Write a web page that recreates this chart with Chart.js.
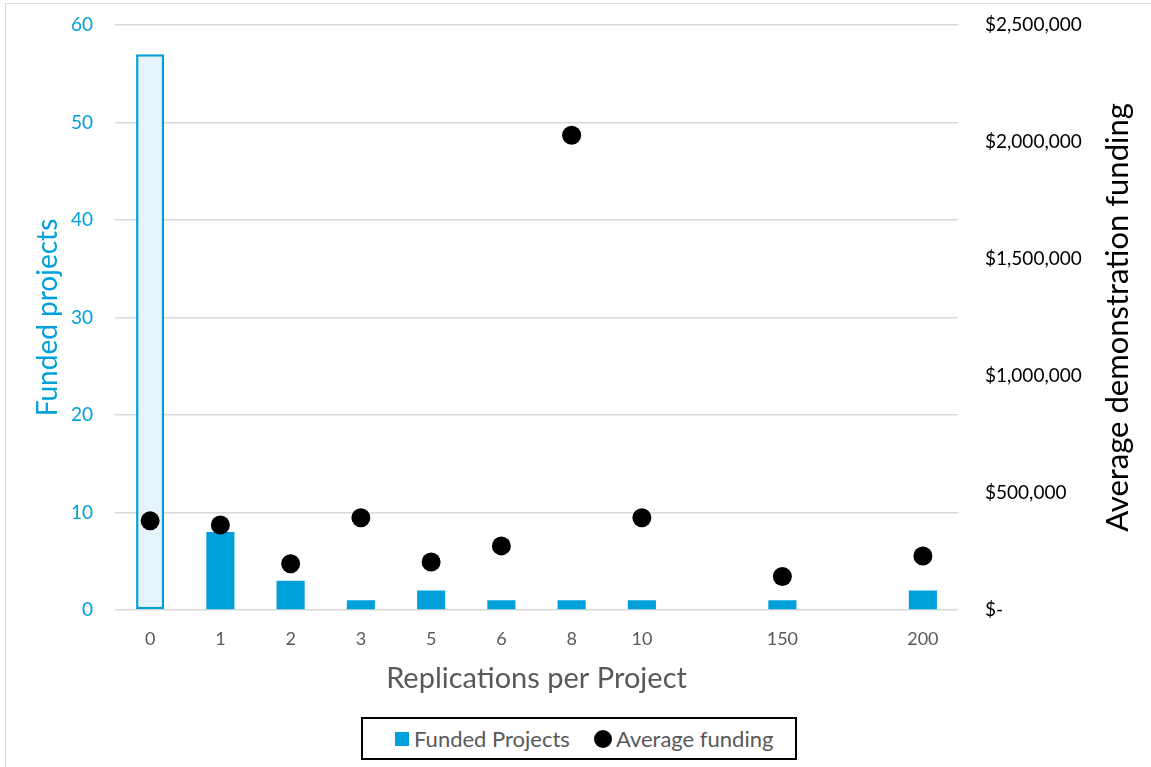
<!DOCTYPE html>
<html>
<head>
<meta charset="utf-8">
<script src="https://cdn.jsdelivr.net/npm/chart.js@4/dist/chart.umd.min.js"></script>
<style>
  html, body { margin: 0; padding: 0; background: #fff; }
  #wrap { position: relative; width: 1151px; height: 767px; overflow: hidden; }
  #frame { position: absolute; left: 5px; top: 3px; width: 1170px; height: 790px;
           border: 1.5px solid #d9d9d9; box-sizing: border-box; }
  #chart { position: absolute; left: 0; top: 0; }
  #legend { position: absolute; left: 361px; top: 717px; width: 436px; height: 43px;
            border: 2px solid #000; box-sizing: border-box; display: flex;
            align-items: center; justify-content: flex-start; padding-left: 20px;
            font-family: Lato, sans-serif; font-size: 22px; color: #595959; background: #fff; }
  .item { display: flex; align-items: center; margin: 0 12px; }
  .sw-bar { width: 14px; height: 14px; margin-right: 5px; }
  .sw-dot { width: 18px; height: 18px; border-radius: 50%; margin-right: 4px; }
</style>
</head>
<body>
<div id="wrap">
  <div id="frame"></div>
  <canvas id="chart" width="1151" height="767"></canvas>
  <div id="legend"></div>
</div>
<script>
// Replications per project (blank slots keep the spacing of the original axis)
const categories = ['0', '1', '2', '3', '5', '6', '8', '10', '', '150', '', '200'];
// Number of funded projects for each replication count
const fundedProjects = [57, 8, 3, 1, 2, 1, 1, 1, null, 1, null, 2];
// Average demonstration funding (USD)
const averageFunding = [381000, 363000, 198000, 394000, 205000, 274000, 2029000, 394000, null, 143000, null, 231000];
// Axis ticks
const leftTicks = [0, 10, 20, 30, 40, 50, 60];
const rightTicks = [0, 500000, 1000000, 1500000, 2000000, 2500000];

const BLUE = '#00A0DA';
const FONT = 'Lato, sans-serif';
const RIGHT_TITLE = 'Average demonstration funding';

function money(v) {
  return v === 0 ? '$-' : '$' + v.toLocaleString('en-US');
}

// Right-hand axis title, read bottom-to-top like the left one
const rightTitlePlugin = {
  id: 'rightTitle',
  afterDraw(chart) {
    const { ctx, chartArea } = chart;
    const s = chart.scales.y1;
    ctx.save();
    ctx.translate(s.right - 33, (chartArea.top + chartArea.bottom) / 2);
    ctx.rotate(-Math.PI / 2);
    ctx.textAlign = 'center';
    ctx.textBaseline = 'middle';
    ctx.fillStyle = '#000';
    ctx.font = '31px ' + FONT;
    ctx.fillText(RIGHT_TITLE, 0, 0);
    ctx.restore();
  }
};

// Vertical axes: fixed width, and no extra space reserved above/below the plot
function fitVertical(width) {
  return s => {
    s.width = width;
    s.paddingTop = 0;
    s.paddingBottom = 0;
  };
}

const chart = new Chart(document.getElementById('chart'), {
  type: 'bar',
  data: {
    labels: categories,
    datasets: [
      {
        type: 'line',
        label: 'Average funding',
        data: averageFunding,
        yAxisID: 'y1',
        showLine: false,
        pointRadius: 9.5,
        pointHoverRadius: 9.5,
        pointBackgroundColor: '#000',
        pointBorderWidth: 0,
        order: 0
      },
      {
        label: 'Funded Projects',
        data: fundedProjects,
        yAxisID: 'y',
        backgroundColor: ctx => ctx.dataIndex === 0 ? '#E5F3FB' : BLUE,
        borderColor: BLUE,
        borderWidth: ctx => ctx.dataIndex === 0 ? 2.5 : 0,
        borderSkipped: false,
        barPercentage: 0.4,
        categoryPercentage: 1.0,
        order: 1
      }
    ]
  },
  plugins: [rightTitlePlugin],
  options: {
    responsive: false,
    animation: false,
    events: [],
    layout: { padding: { top: 25, left: 0, right: 0, bottom: 66 } },
    plugins: { legend: { display: false }, tooltip: { enabled: false } },
    scales: {
      x: {
        grid: { display: false, drawTicks: false },
        border: { display: false },
        ticks: { color: '#595959', font: { family: FONT, size: 18 }, padding: 18, maxRotation: 0, autoSkip: false },
        title: { display: true, text: 'Replications per Project', color: '#595959',
                 font: { family: FONT, size: 29 }, padding: { top: 0, bottom: 5 } },
        afterFit: s => { s.height = 91; }
      },
      y: {
        position: 'left',
        min: 0, max: 60,
        afterBuildTicks: s => { s.ticks = leftTicks.map(v => ({ value: v })); },
        grid: { color: '#d9d9d9', lineWidth: 1.5, drawTicks: false },
        border: { display: false },
        ticks: { color: BLUE, font: { family: FONT, size: 19 }, padding: 22 },
        title: { display: true, text: 'Funded projects', color: BLUE,
                 font: { family: FONT, size: 28 }, padding: { top: 31 } },
        afterFit: fitVertical(115)
      },
      y1: {
        position: 'right',
        min: 0, max: 2500000,
        afterBuildTicks: s => { s.ticks = rightTicks.map(v => ({ value: v })); },
        grid: { display: false, drawTicks: false },
        border: { display: false },
        ticks: { color: '#000', font: { family: FONT, size: 19 }, padding: 27, callback: v => money(v) },
        title: { display: false },
        afterFit: fitVertical(193)
      }
    }
  }
});

// Legend built from the datasets
const legend = document.getElementById('legend');
[chart.data.datasets[1], chart.data.datasets[0]].forEach(ds => {
  const item = document.createElement('div');
  item.className = 'item';
  const sw = document.createElement('span');
  if (ds.type === 'line') {
    sw.className = 'sw-dot';
    sw.style.background = ds.pointBackgroundColor;
  } else {
    sw.className = 'sw-bar';
    sw.style.background = BLUE;
  }
  const txt = document.createElement('span');
  txt.textContent = ds.label;
  item.appendChild(sw);
  item.appendChild(txt);
  legend.appendChild(item);
});
</script>
</body>
</html>
